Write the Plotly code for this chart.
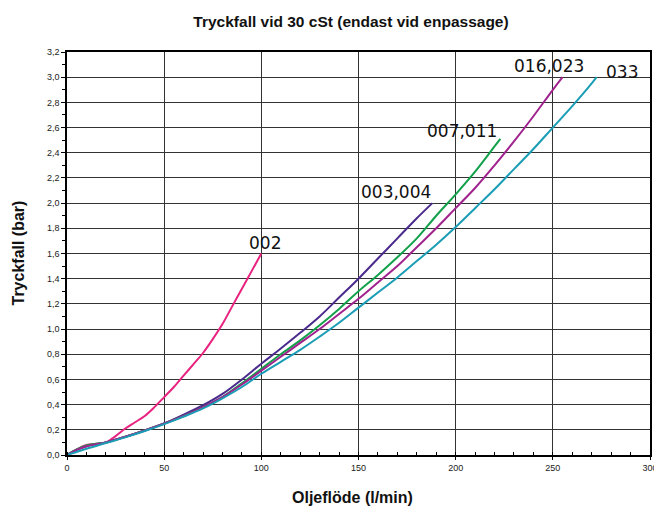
import plotly.graph_objects as go

# Oil flow (l/min) and pressure drop (bar) for each filter size
flow_002 = [0, 5, 10, 15, 20, 25, 30, 35, 40, 45, 50, 55, 60, 65, 70, 75, 80, 85, 90, 95, 100]
drop_002 = [0, 0.045, 0.08, 0.09, 0.1, 0.15, 0.21, 0.26, 0.31, 0.38, 0.46, 0.54, 0.63, 0.72, 0.81, 0.92, 1.04, 1.18, 1.32, 1.46, 1.6]

flow_003 = [0, 5, 10, 15, 20, 30, 40, 50, 60, 70, 80, 90, 100, 110, 120, 130, 140, 150, 160, 170, 180, 188]
drop_003 = [0, 0.04, 0.07, 0.085, 0.1, 0.145, 0.195, 0.25, 0.32, 0.395, 0.485, 0.6, 0.725, 0.845, 0.97, 1.1, 1.25, 1.4, 1.56, 1.72, 1.88, 2.0]

flow_007 = [0, 5, 10, 15, 20, 30, 40, 50, 60, 70, 80, 90, 100, 110, 120, 130, 140, 150, 160, 170, 180, 190, 200, 210, 220, 223]
drop_007 = [0, 0.045, 0.075, 0.09, 0.1, 0.145, 0.195, 0.25, 0.31, 0.38, 0.46, 0.57, 0.685, 0.8, 0.91, 1.03, 1.16, 1.3, 1.43, 1.57, 1.72, 1.9, 2.07, 2.25, 2.45, 2.51]

flow_016 = [0, 5, 10, 15, 20, 30, 40, 50, 60, 70, 80, 90, 100, 110, 120, 130, 140, 150, 160, 170, 180, 190, 200, 210, 220, 230, 240, 250, 255]
drop_016 = [0, 0.04, 0.07, 0.085, 0.1, 0.145, 0.195, 0.25, 0.31, 0.38, 0.46, 0.56, 0.67, 0.78, 0.89, 1.0, 1.12, 1.24, 1.37, 1.5, 1.65, 1.8, 1.96, 2.12, 2.3, 2.49, 2.69, 2.9, 3.0]

flow_033 = [0, 10, 20, 30, 40, 50, 60, 70, 80, 90, 100, 110, 120, 130, 140, 150, 160, 170, 180, 190, 200, 210, 220, 230, 240, 250, 260, 270, 272.5]
drop_033 = [0, 0.05, 0.095, 0.14, 0.19, 0.245, 0.305, 0.37, 0.45, 0.54, 0.645, 0.74, 0.835, 0.94, 1.05, 1.17, 1.29, 1.41, 1.54, 1.67, 1.81, 1.96, 2.11, 2.27, 2.43, 2.6, 2.77, 2.95, 3.0]

series = [
    ("002", flow_002, drop_002, "#E8237F"),
    ("003,004", flow_003, drop_003, "#4A2A8C"),
    ("007,011", flow_007, drop_007, "#12A04A"),
    ("016,023", flow_016, drop_016, "#A0228E"),
    ("033", flow_033, drop_033, "#1A9DB5"),
]

# Curve label anchor points (flow, pressure drop)
label_text = ["002", "003,004", "007,011", "016,023", "033"]
label_x = [102, 169.5, 203.5, 248, 285.5]
label_y = [1.68, 2.09, 2.575, 3.085, 3.04]

x_ticks = [0, 50, 100, 150, 200, 250, 300]
y_ticks = [0, 0.2, 0.4, 0.6, 0.8, 1.0, 1.2, 1.4, 1.6, 1.8, 2.0, 2.2, 2.4, 2.6, 2.8, 3.0, 3.2]
y_tick_text = [f"{v:.1f}".replace(".", ",") for v in y_ticks]

fig = go.Figure()
for name, xs, ys, color in series:
    fig.add_trace(go.Scatter(
        x=xs, y=ys, mode="lines", name=name,
        line=dict(color=color, width=2, shape="spline", smoothing=1.0),
        showlegend=False, hoverinfo="skip",
    ))

for txt, lx, ly in zip(label_text, label_x, label_y):
    fig.add_annotation(
        x=lx, y=ly, text=txt, showarrow=False,
        font=dict(family="DejaVu Sans", size=17, color="#111"),
        xanchor="center", yanchor="middle",
    )

tick_font = dict(family="Liberation Sans, Arial, sans-serif", size=9, color="#222")

fig.update_xaxes(
    range=[0, 300], tickvals=x_ticks, ticktext=[str(v) for v in x_ticks],
    showgrid=True, gridcolor="#333", gridwidth=1,
    showline=True, linecolor="#000", linewidth=1.5, mirror=True,
    ticks="outside", ticklen=3, tickcolor="#000",
    minor=dict(dtick=10, ticks="inside", ticklen=3, tickcolor="#000", showgrid=False),
    tickfont=tick_font, zeroline=False, automargin=False,
    ticklabeloverflow="allow",
)
fig.update_yaxes(
    range=[0, 3.2], tickvals=y_ticks, ticktext=y_tick_text,
    showgrid=True, gridcolor="#333", gridwidth=1,
    showline=True, linecolor="#000", linewidth=1.5, mirror=True,
    ticks="outside", ticklen=4, tickcolor="#000",
    minor=dict(dtick=0.1, ticks="outside", ticklen=3, tickcolor="#000", showgrid=False),
    tickfont=tick_font, zeroline=False, automargin=False,
)

axis_font = dict(family="Liberation Sans, Arial, sans-serif", size=16, color="#111")
fig.add_annotation(
    text="<b>Oljeflöde (l/min)</b>", xref="paper", yref="paper",
    x=0.489, y=0, yshift=-42, showarrow=False, font=axis_font,
    xanchor="center", yanchor="middle",
)
fig.add_annotation(
    text="<b>Tryckfall (bar)</b>", xref="paper", yref="paper",
    x=0, y=0.5, xshift=-49, showarrow=False, font=axis_font, textangle=-90,
    xanchor="center", yanchor="middle",
)

fig.update_layout(
    width=654, height=507,
    margin=dict(l=67, r=4, t=52, b=52),
    paper_bgcolor="white", plot_bgcolor="white",
    title=dict(
        text="<b>Tryckfall vid 30 cSt (endast vid enpassage)</b>",
        x=351 / 654, xanchor="center", y=1 - 22 / 507, yanchor="middle",
        font=dict(family="Liberation Sans, Arial, sans-serif", size=15.5, color="#111"),
    ),
)

fig.write_html("out.html")
